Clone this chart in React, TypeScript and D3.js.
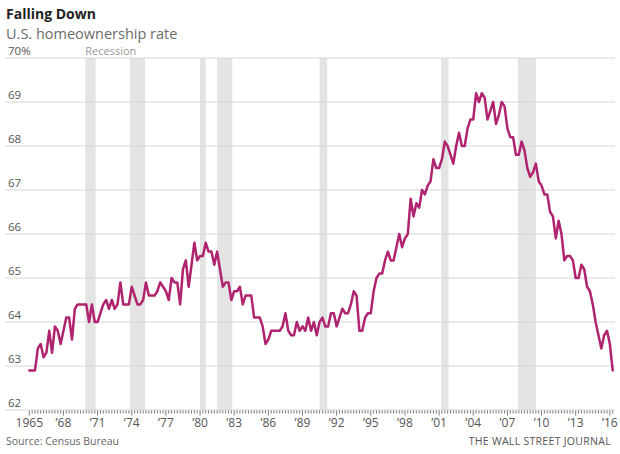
import React from "react";
import * as d3 from "d3";

// Quarterly U.S. homeownership rate, 1965 Q1 – 2016 Q2 (percent)
const startYear = 1965;
const rates: number[] = [
  62.9, 62.9, 62.9, 63.4, // 1965
  63.5, 63.2, 63.3, 63.8, // 1966
  63.3, 63.9, 63.8, 63.5, // 1967
  63.8, 64.1, 64.1, 63.6, // 1968
  64.3, 64.4, 64.4, 64.4, // 1969
  64.4, 64.0, 64.4, 64.0, // 1970
  64.0, 64.2, 64.4, 64.5, // 1971
  64.3, 64.5, 64.3, 64.4, // 1972
  64.9, 64.4, 64.4, 64.4, // 1973
  64.8, 64.6, 64.4, 64.4, // 1974
  64.5, 64.9, 64.6, 64.6, // 1975
  64.6, 64.7, 64.9, 64.8, // 1976
  64.7, 64.5, 65.0, 64.9, // 1977
  64.9, 64.4, 65.2, 65.4, // 1978
  64.8, 65.3, 65.8, 65.4, // 1979
  65.5, 65.5, 65.8, 65.6, // 1980
  65.6, 65.3, 65.6, 65.2, // 1981
  64.8, 64.9, 64.9, 64.5, // 1982
  64.7, 64.7, 64.8, 64.4, // 1983
  64.6, 64.6, 64.6, 64.1, // 1984
  64.1, 64.1, 63.9, 63.5, // 1985
  63.6, 63.8, 63.8, 63.8, // 1986
  63.8, 63.9, 64.2, 63.8, // 1987
  63.7, 63.7, 64.0, 63.8, // 1988
  63.9, 63.8, 64.1, 63.8, // 1989
  64.0, 63.7, 64.0, 64.1, // 1990
  63.9, 63.9, 64.2, 64.2, // 1991
  63.9, 64.1, 64.3, 64.2, // 1992
  64.2, 64.4, 64.7, 64.6, // 1993
  63.8, 63.8, 64.1, 64.2, // 1994
  64.2, 64.7, 65.0, 65.1, // 1995
  65.1, 65.4, 65.6, 65.4, // 1996
  65.4, 65.7, 66.0, 65.7, // 1997
  65.9, 66.0, 66.8, 66.4, // 1998
  66.7, 66.6, 67.0, 66.9, // 1999
  67.1, 67.2, 67.7, 67.5, // 2000
  67.5, 67.7, 68.1, 68.0, // 2001
  67.8, 67.6, 68.0, 68.3, // 2002
  68.0, 68.0, 68.4, 68.6, // 2003
  68.6, 69.2, 69.0, 69.2, // 2004
  69.1, 68.6, 68.8, 69.0, // 2005
  68.5, 68.7, 69.0, 68.9, // 2006
  68.4, 68.2, 68.2, 67.8, // 2007
  67.8, 68.1, 67.9, 67.5, // 2008
  67.3, 67.4, 67.6, 67.2, // 2009
  67.1, 66.9, 66.9, 66.5, // 2010
  66.4, 65.9, 66.3, 66.0, // 2011
  65.4, 65.5, 65.5, 65.4, // 2012
  65.0, 65.0, 65.3, 65.2, // 2013
  64.8, 64.7, 64.4, 64.0, // 2014
  63.7, 63.4, 63.7, 63.8, // 2015
  63.5, 62.9,             // 2016
];

// NBER recessions (fractional years)
const recessionStarts = [1969.92, 1973.83, 1980.0, 1981.5, 1990.5, 2001.17, 2007.92];
const recessionEnds = [1970.83, 1975.17, 1980.5, 1982.83, 1991.17, 2001.83, 2009.5];

const yTicks = [62, 63, 64, 65, 66, 67, 68, 69, 70];
const xLabelYears = [1965, 1968, 1971, 1974, 1977, 1980, 1983, 1986, 1989, 1992, 1995, 1998, 2001, 2004, 2007, 2010, 2013, 2016];

const title = "Falling Down";
const subtitle = "U.S. homeownership rate";
const source = "Source: Census Bureau";
const credit = "THE WALL STREET JOURNAL";

const W = 620;
const H = 454;
const FONT = "'Open Sans', 'Noto Sans', sans-serif";

export default function App() {
  const data = rates.map((v, i) => ({ t: startYear + i / 4, v }));
  const lastT = data[data.length - 1].t;

  const x = d3.scaleLinear().domain([startYear, lastT]).range([29.3, 612.7]);
  const y = d3.scaleLinear().domain([62, 70]).range([410, 58]);

  const line = d3
    .line<{ t: number; v: number }>()
    .x((d) => x(d.t))
    .y((d) => y(d.v))
    .curve(d3.curveLinear);

  const quarterTicks = d3.range(0, Math.round((lastT - startYear) * 4) + 1).map((q) => startYear + q / 4);

  const fmtYear = (yr: number) => (yr === 1965 ? String(yr) : "\u2019" + String(yr).slice(2));

  return (
    <svg
      width={W}
      height={H}
      style={{ position: "absolute", left: 0, top: 0, background: "#fff" }}
      fontFamily={FONT}
    >
      <rect x={0} y={0} width={W} height={H} fill="#fff" />
      <text x={6} y={19} fontSize={14} fontWeight={700} fill="#222">
        {title}
      </text>
      <text x={6} y={39} fontSize={14.5} fill="#6b6b6b">
        {subtitle}
      </text>

      {/* recession bands */}
      {recessionStarts.map((s, i) => (
        <rect
          key={"r" + i}
          x={x(s)}
          y={y(70)}
          width={x(recessionEnds[i]) - x(s)}
          height={y(62) - y(70)}
          fill="#e4e4e4"
        />
      ))}
      <text x={x(recessionStarts[0])} y={55} fontSize={11} fill="#999">
        Recession
      </text>

      {/* gridlines & y labels */}
      {yTicks.map((t) => (
        <g key={"g" + t}>
          <line x1={5} x2={615} y1={y(t)} y2={y(t)} stroke="#d6d6d6" strokeWidth={1} />
          <text x={8} y={y(t) - 3} fontSize={11.5} fill="#555">
            {t === 70 ? "70%" : String(t)}
          </text>
        </g>
      ))}

      {/* x axis ticks */}
      {quarterTicks.map((t, i) => {
        const major = xLabelYears.includes(t);
        return (
          <line
            key={"q" + i}
            x1={x(t)}
            x2={x(t)}
            y1={y(62) + 0.5}
            y2={y(62) + (major ? 5.5 : 3.5)}
            stroke="#777"
            strokeWidth={1}
          />
        );
      })}
      {xLabelYears.map((yr) => (
        <text key={"l" + yr} x={x(yr)} y={427} fontSize={12} fill="#555" textAnchor="middle">
          {fmtYear(yr)}
        </text>
      ))}

      {/* data line */}
      <path
        d={line(data) ?? ""}
        fill="none"
        stroke="#b0236e"
        strokeWidth={2.5}
        strokeLinejoin="round"
        strokeLinecap="round"
      />

      <text x={6} y={445} fontSize={10.5} fill="#666">
        {source}
      </text>
      <text x={611} y={445} fontSize={10.5} fill="#555" textAnchor="end" letterSpacing={0.3}>
        {credit}
      </text>
    </svg>
  );
}
